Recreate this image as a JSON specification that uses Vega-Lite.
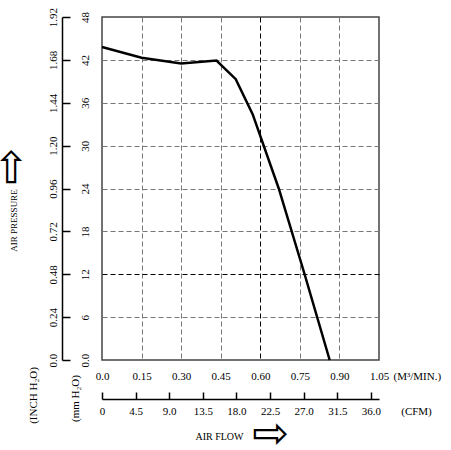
{
  "$schema": "https://vega.github.io/schema/vega-lite/v6.json",
  "width": 277,
  "height": 343,
  "autosize": {"type": "none"},
  "padding": {"left": 102, "top": 17, "right": 72, "bottom": 90},
  "background": "white",
  "data": {"values": [
    {"q": 0, "p": 43.8},
    {"q": 0.15, "p": 42.3},
    {"q": 0.3, "p": 41.5},
    {"q": 0.434, "p": 41.9},
    {"q": 0.507, "p": 39.3},
    {"q": 0.571, "p": 34.4},
    {"q": 0.67, "p": 24.0},
    {"q": 0.768, "p": 12.0},
    {"q": 0.863, "p": 0}
  ]},
  "layer": [
    {
      "mark": {"type": "line", "color": "black", "strokeWidth": 2.5},
      "encoding": {
        "x": {"field": "q", "type": "quantitative", "scale": {"domain": [0, 1.05], "nice": false},
          "axis": {"orient": "bottom", "values": [0, 0.15, 0.3, 0.45, 0.6, 0.75, 0.9, 1.05],
            "labelExpr": "datum.value == 0 ? '0.0' : format(datum.value, '.2f')",
            "domain": false, "ticks": false, "grid": true, "gridDash": [5, 3],
            "gridColor": {"condition": {"test": "datum.value == 0.6", "value": "#000"}, "value": "#777"},
            "gridOpacity": {"condition": {"test": "datum.value == 0 || datum.value == 1.05", "value": 0}, "value": 1},
            "labelPadding": 10,
            "title": "(M³/MIN.)", "titleX": 291, "titleY": 16, "titleAlign": "left", "titleBaseline": "middle", "titleAngle": 0}},
        "y": {"field": "p", "type": "quantitative", "scale": {"domain": [0, 48], "nice": false},
          "axis": {"orient": "left", "values": [0, 6, 12, 18, 24, 30, 36, 42, 48],
            "labelExpr": "datum.value == 0 ? '0.0' : datum.label",
            "labelAngle": -90, "domain": false, "ticks": false, "grid": true, "gridDash": [5, 3],
            "gridColor": {"condition": {"test": "datum.value == 12", "value": "#000"}, "value": "#777"},
            "gridOpacity": {"condition": {"test": "datum.value == 0 || datum.value == 48", "value": 0}, "value": 1},
            "labelPadding": 12,
            "title": "(mm H₂O)", "titleX": -27, "titleY": 381, "titleAngle": -90, "titleAlign": "center", "titleBaseline": "middle"}}
      }
    },
    {
      "mark": {"type": "line", "opacity": 0},
      "encoding": {
        "x": {"field": "q", "type": "quantitative",
          "axis": {"orient": "bottom", "offset": 39,
            "values": [0, 0.127426, 0.254851, 0.382277, 0.509703, 0.637128, 0.764554, 0.89198, 1.019405],
            "labelExpr": "datum.value == 0 ? '0' : format(datum.value * 35.3147, '.1f')",
            "domain": true, "domainColor": "black", "domainWidth": 1.5,
            "ticks": true, "tickSize": -7, "tickColor": "black", "tickWidth": 1.5,
            "labelPadding": 13, "grid": false,
            "title": "(CFM)", "titleX": 314, "titleY": 12, "titleAlign": "center", "titleBaseline": "middle", "titleAngle": 0}},
        "y": {"field": "p", "type": "quantitative",
          "axis": {"orient": "left", "offset": 40, "values": [0, 6, 12, 18, 24, 30, 36, 42, 48],
            "labelExpr": "datum.value == 0 ? '0.0' : format(datum.value / 25, '.2f')",
            "labelAngle": -90, "domain": true, "domainColor": "black", "domainWidth": 1.5,
            "ticks": true, "tickSize": -8, "tickColor": "black", "tickWidth": 1.5,
            "labelPadding": 11.5, "grid": false,
            "title": "(INCH H₂O)", "titleX": -29, "titleY": 378, "titleAngle": -90, "titleAlign": "center", "titleBaseline": "middle"}}
      }
    },
    {
      "mark": {"type": "line", "opacity": 0},
      "encoding": {
        "x": {"field": "q", "type": "quantitative",
          "axis": {"orient": "bottom", "domain": false, "ticks": false, "labels": false, "grid": false,
            "title": "AIR FLOW", "titleX": 117, "titleY": 76, "titleAlign": "center", "titleBaseline": "middle", "titleAngle": 0, "titleFontSize": 10}},
        "y": {"field": "p", "type": "quantitative",
          "axis": {"orient": "left", "domain": false, "ticks": false, "labels": false, "grid": false,
            "title": "AIR PRESSURE", "titleX": -89, "titleY": 203, "titleAngle": -90, "titleAlign": "center", "titleBaseline": "middle", "titleFontSize": 9}}
      }
    },
    {
      "mark": {"type": "line", "opacity": 0},
      "encoding": {
        "x": {"field": "q", "type": "quantitative",
          "axis": {"orient": "bottom", "domain": false, "ticks": false, "labels": false, "grid": false,
            "title": "⇨", "titleFont": "DejaVu Sans", "titleFontSize": 44, "titleX": 168, "titleY": 74, "titleAlign": "center", "titleBaseline": "middle", "titleAngle": 0}},
        "y": {"field": "p", "type": "quantitative",
          "axis": {"orient": "left", "domain": false, "ticks": false, "labels": false, "grid": false,
            "title": "⇨", "titleFont": "DejaVu Sans", "titleFontSize": 44, "titleX": -91, "titleY": 149, "titleAngle": -90, "titleAlign": "center", "titleBaseline": "middle"}}
      }
    }
  ],
  "resolve": {"axis": {"x": "independent", "y": "independent"}},
  "config": {
    "view": {"stroke": "#444", "strokeWidth": 1.5},
    "axis": {
      "labelFont": "Liberation Serif", "labelFontSize": 11, "labelColor": "black",
      "labelFlush": false, "labelOverlap": false,
      "titleFont": "Liberation Serif", "titleFontSize": 11, "titleFontWeight": "normal", "titleColor": "black"
    }
  }
}
